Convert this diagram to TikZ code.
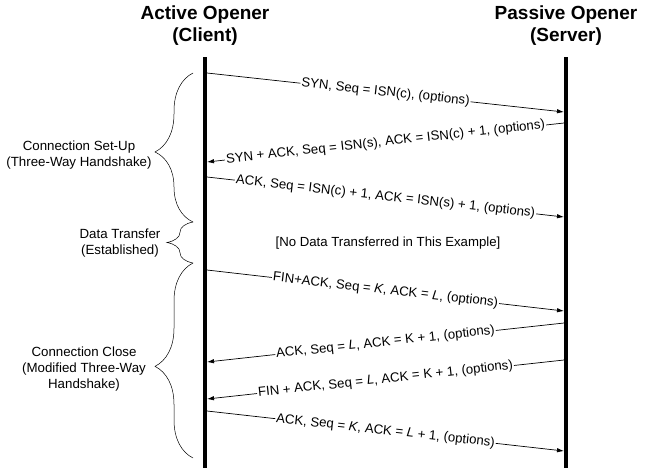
\documentclass[tikz,border=0pt]{standalone}
\usepackage{fontspec}
\setmainfont{Liberation Sans}
\usetikzlibrary{arrows.meta,decorations.pathreplacing}
\begin{document}
\begin{tikzpicture}[x=1pt,y=-1pt,
  head/.style={font=\fontsize{19}{22}\selectfont\bfseries,align=center},
  life/.style={line width=3.6pt},
  msg/.style={line width=0.7pt,-{Latex[length=7pt,width=4.5pt]}},
  lbl/.style={font=\fontsize{13.2}{15}\selectfont,fill=white,inner xsep=1pt,inner ysep=0pt,sloped,midway},
  side/.style={font=\fontsize{13.3}{16}\selectfont,align=center},
  brc/.style={decorate,line width=0.5pt,decoration={brace,aspect=0.47}}]
\useasboundingbox (0,0) rectangle (650,474);
% headers
\node[head] (hc) at (205,26) {Active Opener\\(Client)};
\node[head] (hs) at (566,26) {Passive Opener\\(Server)};
% lifelines
\coordinate (ct) at (205,57); \coordinate (cb) at (205,468);
\coordinate (st) at (566,57); \coordinate (sb) at (566,468);
\draw[life] (ct) -- (cb);
\draw[life] (st) -- (sb);
% message endpoints
\coordinate (a1) at (207,73);  \coordinate (b1) at (564,112);
\coordinate (b2) at (564,123); \coordinate (a2) at (207,162);
\coordinate (a3) at (207,177); \coordinate (b3) at (564,217);
\coordinate (a4) at (207,270); \coordinate (b4) at (564,311);
\coordinate (b5) at (564,323); \coordinate (a5) at (207,362);
\coordinate (b6) at (564,360); \coordinate (a6) at (207,399);
\coordinate (a7) at (207,411); \coordinate (b7) at (564,451);
\draw[msg] (a1) -- node[lbl]{SYN, Seq = ISN(c), (options)} (b1);
\draw[msg] (b2) -- node[lbl]{SYN + ACK, Seq = ISN(s), ACK = ISN(c) + 1, (options)} (a2);
\draw[msg] (a3) -- node[lbl]{ACK, Seq = ISN(c) + 1, ACK = ISN(s) + 1, (options)} (b3);
\draw[msg] (a4) -- node[lbl]{FIN+ACK, Seq = \textit{K}, ACK = \textit{L}, (options)} (b4);
\draw[msg] (b5) -- node[lbl]{ACK, Seq = \textit{L}, ACK = K + 1, (options)} (a5);
\draw[msg] (b6) -- node[lbl]{FIN + ACK, Seq = \textit{L}, ACK = K + 1, (options)} (a6);
\draw[msg] (a7) -- node[lbl]{ACK, Seq = \textit{K}, ACK = \textit{L} + 1, (options)} (b7);
\node[font=\fontsize{13.2}{15}\selectfont] (nd) at (388,243) {[No Data Transferred in This Example]};
% braces
\coordinate (p1b) at (193,222); \coordinate (p1t) at (193,73);
\coordinate (p2b) at (193,263); \coordinate (p2t) at (193,222);
\coordinate (p3b) at (193,458); \coordinate (p3t) at (193,263);
\draw[brc,decoration={amplitude=38pt}] (p1b) -- (p1t);
\draw[brc,decoration={amplitude=26pt,aspect=0.5}] (p2b) -- (p2t);
\draw[brc,decoration={amplitude=38pt}] (p3b) -- (p3t);
\node[side] (l1) at (79,155) {Connection Set-Up\\(Three-Way Handshake)};
\node[side] (l2) at (120,243) {Data Transfer\\(Established)};
\node[side] (l3) at (84,369) {Connection Close\\(Modified Three-Way\\Handshake)};
\end{tikzpicture}
\end{document}
